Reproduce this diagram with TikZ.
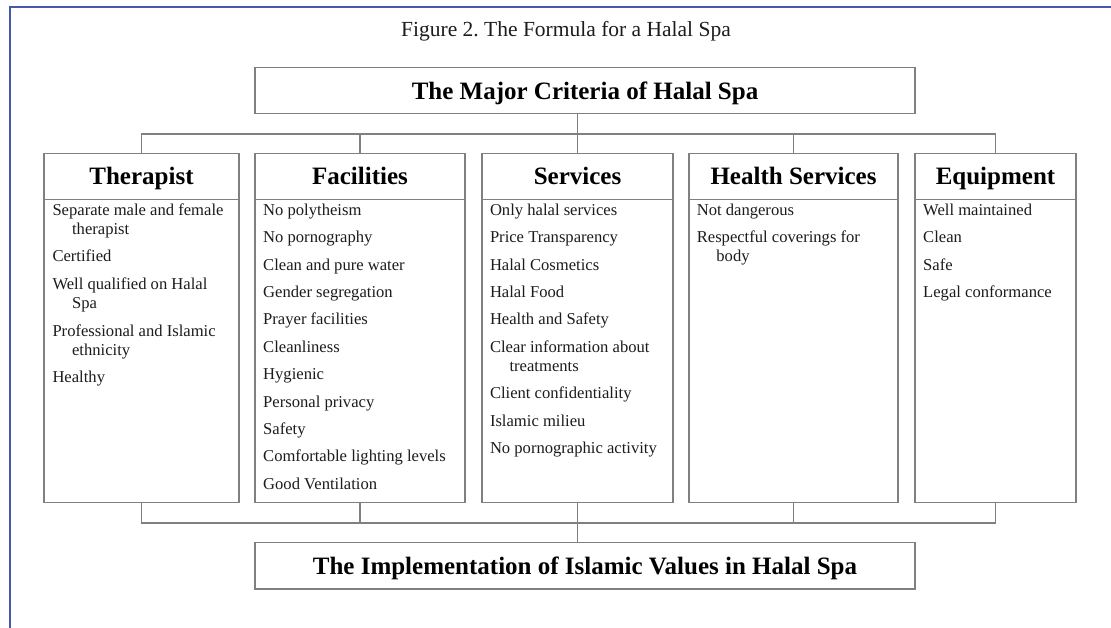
\documentclass[tikz,border=0pt]{standalone}
\usepackage{fontspec}
\setmainfont{Liberation Serif}
\definecolor{frameblue}{RGB}{68,88,176}
\definecolor{linegray}{RGB}{128,128,128}
\definecolor{txt}{RGB}{28,28,28}
\newcommand\spaitem[1]{\hangindent=19.6pt\hangafter=1\relax\strut#1\par}
\newcommand\spabodysetup{\parindent=0pt\parskip=8.1pt\relax}
\begin{document}
\frenchspacing
\begin{tikzpicture}[x=1pt,y=-1pt,
  boxline/.style={draw=linegray, line width=1.1pt},
  rbox/.style={boxline, rectangle, inner sep=0pt, outer sep=0pt},
  bigfont/.style={font=\fontsize{25}{30}\selectfont\bfseries, text=black},
  hdr/.style={bigfont, anchor=base, inner sep=0pt},
  body/.style={font=\fontsize{16.6}{19.3}\selectfont, text=txt, text width=#1, align=flush left, inner sep=0pt, anchor=north west},
  conn/.style={boxline, line join=miter}]
\fill[white] (0,0) rectangle (1111,628);
\useasboundingbox (0,0) rectangle (1111,628);
% blue frame
\coordinate (fa) at (10,628);
\coordinate (fb) at (10,7.5);
\coordinate (fc) at (1111,7.5);
\draw[frameblue, line width=2pt] (fa) -- (fb) -- (fc);
% title
\node[font=\fontsize{21.5}{26}\selectfont, text=txt, anchor=base, inner sep=0pt] (title) at (566,36.7) {Figure 2. The Formula for a Halal Spa};
% top box
\node[rbox, bigfont, minimum width=660pt, minimum height=46pt, text height=18pt, text depth=0.4pt] (top) at (585,90.5) {The Major Criteria of Halal Spa};
% columns
\node[rbox, minimum width=195pt, minimum height=349.4pt, anchor=north west] (ther) at (44,153.3) {};
\node[rbox, minimum width=210pt, minimum height=349.4pt, anchor=north west] (fac) at (255,153.3) {};
\node[rbox, minimum width=191pt, minimum height=349.4pt, anchor=north west] (serv) at (482,153.3) {};
\node[rbox, minimum width=209pt, minimum height=349.4pt, anchor=north west] (hs) at (689,153.3) {};
\node[rbox, minimum width=161pt, minimum height=349.4pt, anchor=north west] (equip) at (915,153.3) {};
% headers
\node[hdr] (therH) at ([yshift=-31.7pt]ther.north) {Therapist};
\node[hdr] (facH) at ([yshift=-31.7pt]fac.north) {Facilities};
\node[hdr] (servH) at ([yshift=-31.7pt]serv.north) {Services};
\node[hdr] (hsH) at ([yshift=-31.7pt]hs.north) {Health Services};
\node[hdr] (equipH) at ([yshift=-31.7pt]equip.north) {Equipment};
% header dividers
\draw[boxline] ([yshift=-46pt]ther.north west) -- ([yshift=-46pt]ther.north east);
\draw[boxline] ([yshift=-46pt]fac.north west) -- ([yshift=-46pt]fac.north east);
\draw[boxline] ([yshift=-46pt]serv.north west) -- ([yshift=-46pt]serv.north east);
\draw[boxline] ([yshift=-46pt]hs.north west) -- ([yshift=-46pt]hs.north east);
\draw[boxline] ([yshift=-46pt]equip.north west) -- ([yshift=-46pt]equip.north east);
% bodies
\node[body=185pt] (therB) at ([xshift=8.3pt,yshift=-48.2pt]ther.north west) {\spabodysetup
\spaitem{Separate male and female\newline therapist}
\spaitem{Certified}
\spaitem{Well qualified on Halal\newline Spa}
\spaitem{Professional and Islamic\newline ethnicity}
\spaitem{Healthy}};
\node[body=200pt] (facB) at ([xshift=8pt,yshift=-48.2pt]fac.north west) {\spabodysetup
\spaitem{No polytheism}
\spaitem{No pornography}
\spaitem{Clean and pure water}
\spaitem{Gender segregation}
\spaitem{Prayer facilities}
\spaitem{Cleanliness}
\spaitem{Hygienic}
\spaitem{Personal privacy}
\spaitem{Safety}
\spaitem{Comfortable lighting levels}
\spaitem{Good Ventilation}};
\node[body=182pt] (servB) at ([xshift=7.8pt,yshift=-48.2pt]serv.north west) {\spabodysetup
\spaitem{Only halal services}
\spaitem{Price Transparency}
\spaitem{Halal Cosmetics}
\spaitem{Halal Food}
\spaitem{Health and Safety}
\spaitem{Clear information about\newline treatments}
\spaitem{Client confidentiality}
\spaitem{Islamic milieu}
\spaitem{No pornographic activity}};
\node[body=198pt] (hsB) at ([xshift=7.6pt,yshift=-48.2pt]hs.north west) {\spabodysetup
\spaitem{Not dangerous}
\spaitem{Respectful coverings for\newline body}};
\node[body=150pt] (equipB) at ([xshift=8pt,yshift=-48.2pt]equip.north west) {\spabodysetup
\spaitem{Well maintained}
\spaitem{Clean}
\spaitem{Safe}
\spaitem{Legal conformance}};
% bottom box
\node[rbox, bigfont, minimum width=660pt, minimum height=46.7pt, text height=18pt, text depth=0.4pt] (bot) at (585,565.6) {The Implementation of Islamic Values in Halal Spa};
% connectors
\coordinate (busT) at (577.5,134);
\coordinate (busB) at (577.5,523);
\draw[conn] (top.south -| serv.north) -- (serv.north);
\draw[conn] (ther.north) -- (ther.north |- busT) -- (equip.north |- busT) -- (equip.north);
\draw[conn] (fac.north) -- (fac.north |- busT);
\draw[conn] (hs.north) -- (hs.north |- busT);
\draw[conn] (serv.south) -- (serv.south |- bot.north);
\draw[conn] (ther.south) -- (ther.south |- busB) -- (equip.south |- busB) -- (equip.south);
\draw[conn] (fac.south) -- (fac.south |- busB);
\draw[conn] (hs.south) -- (hs.south |- busB);
\end{tikzpicture}
\end{document}
